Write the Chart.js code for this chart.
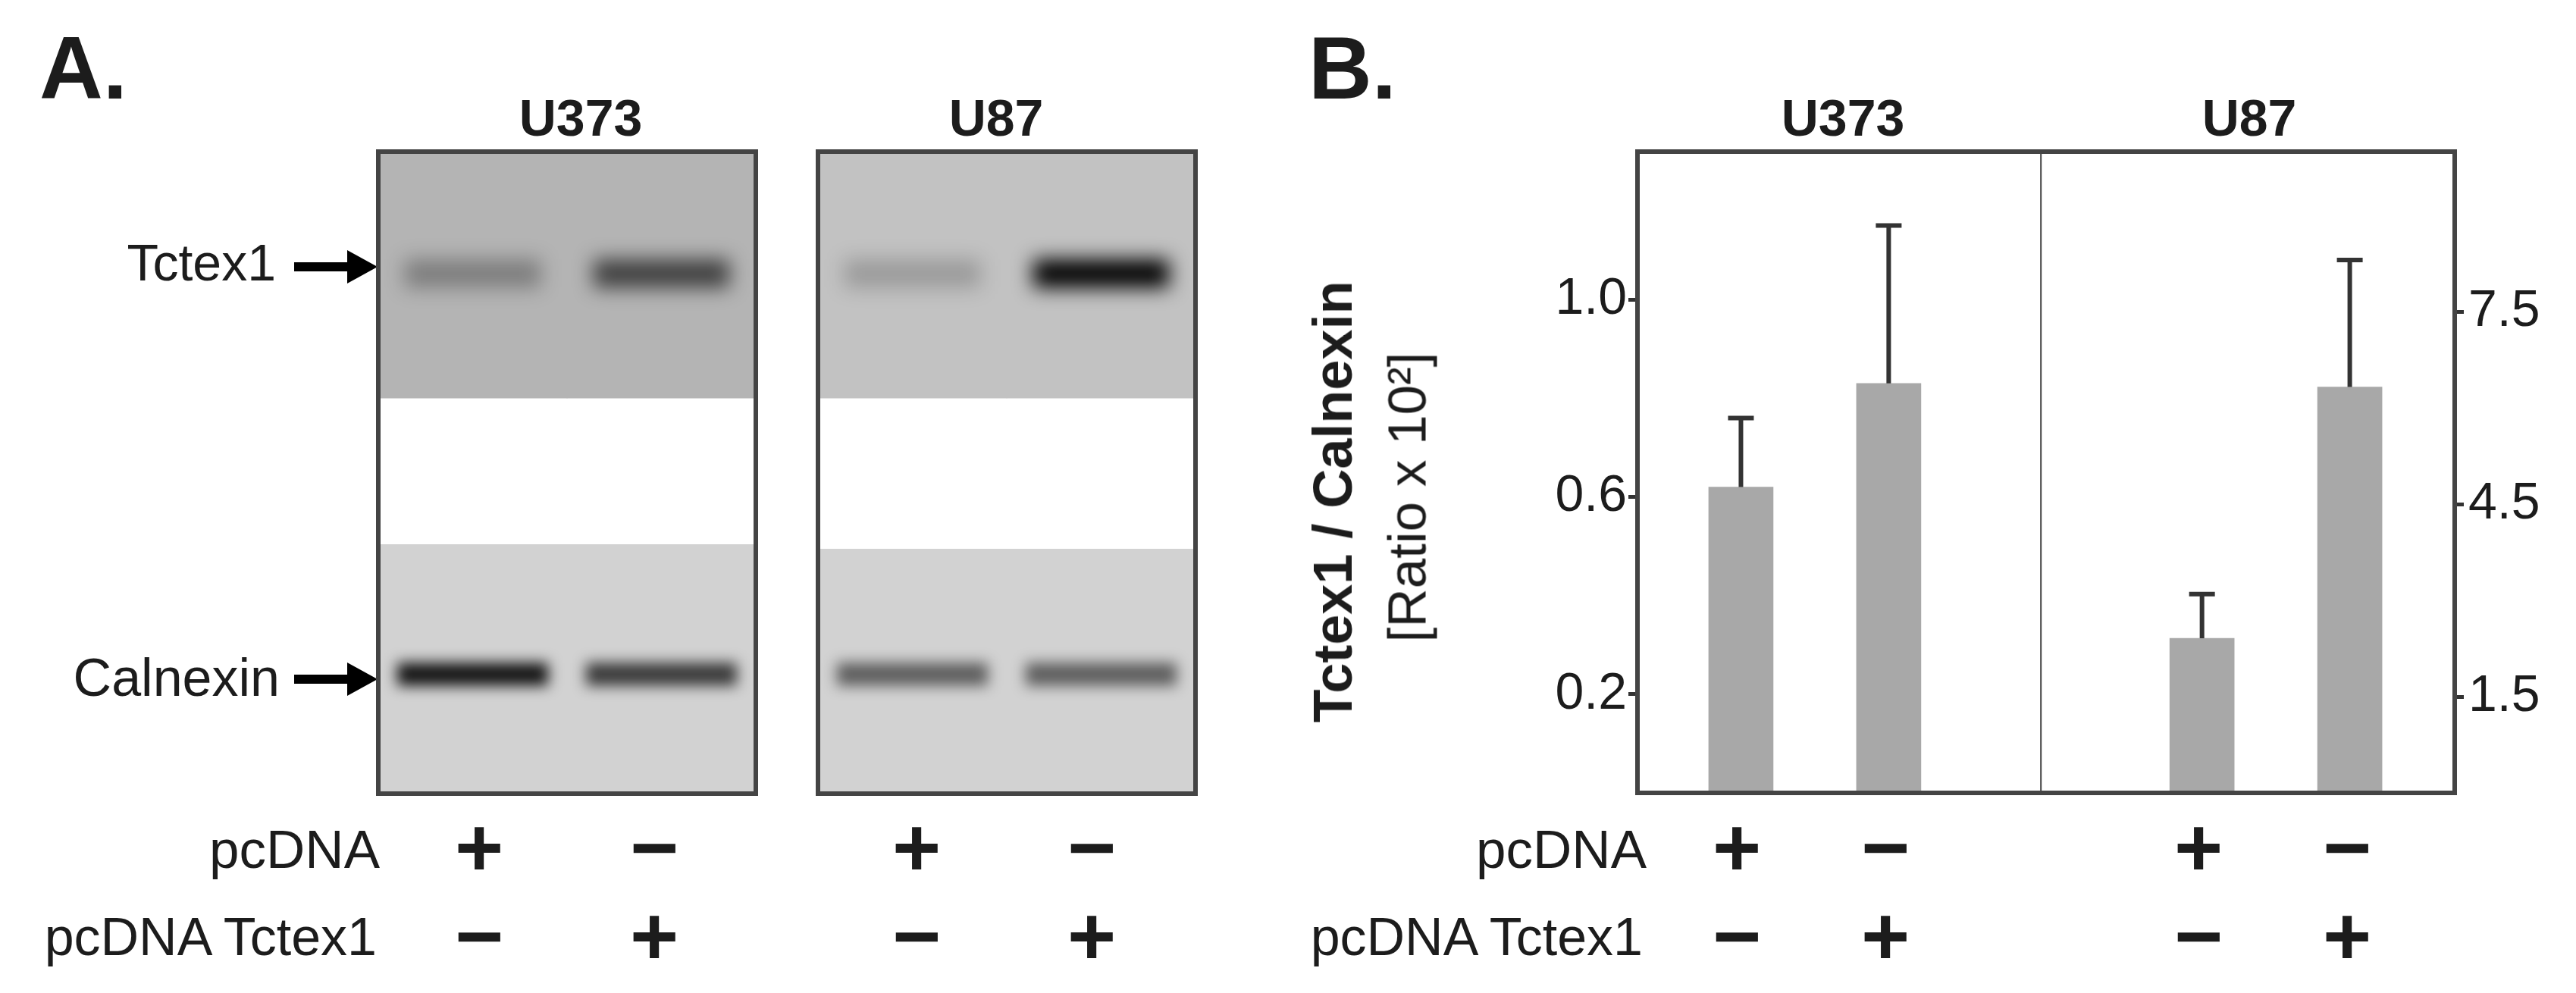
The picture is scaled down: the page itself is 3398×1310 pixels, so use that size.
<!DOCTYPE html>
<html>
<head>
<meta charset="utf-8">
<script src="https://cdn.jsdelivr.net/npm/chart.js@4"></script>
<style>
  html, body { margin: 0; padding: 0; background: #fff; }
  body { position: relative; width: 3398px; height: 1310px; overflow: hidden; }
  canvas { position: absolute; }
  .txt { position: absolute; white-space: nowrap; color: #1c1c1c; font-family: "Liberation Sans", Arial, sans-serif; line-height: 1; }
</style>
</head>
<body>
<canvas id="barChart" width="3398" height="1310" style="left:0;top:0"></canvas>
<canvas id="blotU373" width="508" height="857" style="left:494px;top:195px"></canvas>
<canvas id="blotU87" width="508" height="857" style="left:1074px;top:195px"></canvas>
<script>
// panel B values
const cellLines = ["U373", "U87"];
const u373Values = [0.62, 0.83];
const u373ErrTop = [0.76, 1.15];
const u87Values = [2.41, 6.33];
const u87ErrTop = [3.1, 8.31];
const laneSlots = [1, 2, 4.12, 5.12];
const leftTicks = [0.2, 0.6, 1.0];
const rightTicks = [1.5, 4.5, 7.5];

// lanes
const pcdnaSigns = ["+", "−", "+", "−"];
const tctexSigns = ["−", "+", "−", "+"];

// panel A blot, y axis is % of gel height, density is 0-1
const lanes = ["pcDNA", "pcDNA Tctex1"];
const tctexBand = [16.8, 21.2];
const calnexinBand = [79.6, 83.2];
const u373Density = { tctex: [0.3, 0.65], calnexin: [0.9, 0.72] };
const u87Density = { tctex: [0.2, 1], calnexin: [0.55, 0.55] };
const u373Regions = { top: [0, 38.4], bottom: [61.2, 100], topGrey: "#b4b4b4", bottomGrey: "#d2d2d2" };
const u87Regions = { top: [0, 38.4], bottom: [61.9, 100], topGrey: "#c2c2c2", bottomGrey: "#d2d2d2" };

const DARK = "#333333";
Chart.defaults.font.family = '"Liberation Sans", Arial, sans-serif';
Chart.defaults.animation = false;

// error bars, whisker goes up only
const errorBars = {
  id: "errorBars",
  afterDatasetsDraw(chart) {
    const ctx = chart.ctx;
    chart.data.datasets.forEach((ds, d) => {
      const yScale = chart.scales[ds.yAxisID];
      ds.data.forEach((pt, i) => {
        const x = chart.scales.x.getPixelForValue(pt.x);
        const y0 = yScale.getPixelForValue(pt.y);
        const y1 = yScale.getPixelForValue(ds.errTop[i]);
        ctx.save();
        ctx.strokeStyle = DARK;
        ctx.lineWidth = 6;
        ctx.beginPath();
        ctx.moveTo(x, y0);
        ctx.lineTo(x, y1);
        ctx.moveTo(x - 17, y1);
        ctx.lineTo(x + 17, y1);
        ctx.stroke();
        ctx.restore();
      });
    });
  },
};

// plot frame and the line between the two cell lines
const frame = {
  id: "frame",
  afterDraw(chart) {
    const a = chart.chartArea;
    const ctx = chart.ctx;
    ctx.save();
    ctx.strokeStyle = "#444444";
    ctx.lineWidth = 6;
    ctx.strokeRect(a.left, a.top, a.width, a.height);
    if (chart.scales.x.type === "linear") {
      const x = chart.scales.x.getPixelForValue(3.03);
      ctx.lineWidth = 2;
      ctx.beginPath();
      ctx.moveTo(x, a.top);
      ctx.lineTo(x, a.bottom);
      ctx.stroke();
    }
    ctx.restore();
  },
};

// arrows pointing at the blots
const arrows = {
  id: "arrows",
  afterDraw(chart) {
    const ctx = chart.ctx;
    [352, 896].forEach((y) => {
      ctx.save();
      ctx.fillStyle = "#000";
      ctx.fillRect(388, y - 6, 74, 12);
      ctx.beginPath();
      ctx.moveTo(458, y - 22);
      ctx.lineTo(498, y);
      ctx.lineTo(458, y + 22);
      ctx.closePath();
      ctx.fill();
      ctx.restore();
    });
  },
};

new Chart(document.getElementById("barChart"), {
  type: "bar",
  data: {
    datasets: [
      {
        label: cellLines[0],
        yAxisID: "yLeft",
        data: u373Values.map((v, i) => ({ x: laneSlots[i], y: v })),
        errTop: u373ErrTop,
      },
      {
        label: cellLines[1],
        yAxisID: "yRight",
        data: u87Values.map((v, i) => ({ x: laneSlots[i + 2], y: v })),
        errTop: u87ErrTop,
      },
    ],
  },
  options: {
    responsive: false,
    grouped: false,
    barThickness: 85,
    backgroundColor: "#a8a8a8",
    layout: { padding: { left: 1960, right: 30, top: 200, bottom: 264 } },
    plugins: { legend: { display: false }, tooltip: { enabled: false } },
    scales: {
      x: { type: "linear", display: false, offset: false, min: 0.3, max: 5.83 },
      yLeft: {
        position: "left",
        min: 0,
        max: 1.3,
        border: { display: false },
        grid: { drawOnChartArea: false, color: DARK, lineWidth: 5, tickLength: 12 },
        ticks: { color: "#1c1c1c", font: { size: 68 }, padding: 2, callback: (v) => v.toFixed(1) },
        afterBuildTicks: (axis) => { axis.ticks = leftTicks.map((v) => ({ value: v })); },
        afterFit: (axis) => { axis.width = 200; },
      },
      yRight: {
        position: "right",
        min: 0,
        max: 10,
        border: { display: false },
        grid: { drawOnChartArea: false, color: DARK, lineWidth: 5, tickLength: 12 },
        ticks: { color: "#1c1c1c", font: { size: 68 }, padding: 6, callback: (v) => v.toFixed(1) },
        afterBuildTicks: (axis) => { axis.ticks = rightTicks.map((v) => ({ value: v })); },
        afterFit: (axis) => { axis.width = 130; },
      },
    },
  },
  plugins: [errorBars, frame, arrows],
});

// soft edges for the protein bands
const bandBlur = {
  id: "bandBlur",
  beforeDatasetDraw(chart, args) {
    const r = args.meta.controller.getDataset().blurPx;
    chart.ctx.save();
    if (r) chart.ctx.filter = "blur(" + r + "px)";
  },
  afterDatasetDraw(chart) {
    chart.ctx.restore();
  },
};

function blot(id, regions, density) {
  const band = (range, vals, pct, blurPx) => ({
    data: vals.map(() => range),
    backgroundColor: vals.map((d) => "rgba(0,0,0," + d + ")"),
    barPercentage: pct,
    categoryPercentage: 1,
    blurPx: blurPx,
  });
  new Chart(document.getElementById(id), {
    type: "bar",
    data: {
      labels: lanes,
      // chart.js paints the first dataset last, so the bands go first
      datasets: [
        band(tctexBand, density.tctex, 0.72, 13),
        band(calnexinBand, density.calnexin, 0.8, 9),
        { data: lanes.map(() => regions.top), backgroundColor: regions.topGrey, barPercentage: 1, categoryPercentage: 1 },
        { data: lanes.map(() => regions.bottom), backgroundColor: regions.bottomGrey, barPercentage: 1, categoryPercentage: 1 },
      ],
    },
    options: {
      responsive: false,
      grouped: false,
      layout: { padding: 5 },
      plugins: { legend: { display: false }, tooltip: { enabled: false } },
      scales: {
        x: { display: false },
        y: { display: false, reverse: true, min: 0, max: 100 },
      },
    },
    plugins: [bandBlur, frame],
  });
}
blot("blotU373", u373Regions, u373Density);
blot("blotU87", u87Regions, u87Density);

// all the text around the charts
function addText(str, x, y, size, opts) {
  opts = opts || {};
  const el = document.createElement("div");
  el.className = "txt";
  el.textContent = str;
  el.style.left = x + "px";
  el.style.top = y + "px";
  el.style.fontSize = size + "px";
  if (opts.bold) el.style.fontWeight = "bold";
  const ax = opts.align === "right" ? "-100%" : opts.align === "left" ? "0" : "-50%";
  el.style.transform = "translate(" + ax + ",-50%)" + (opts.rot ? " rotate(" + opts.rot + "deg)" : "");
  document.body.appendChild(el);
}

addText("A.", 52, 90, 116, { bold: true, align: "left" });
addText("B.", 1726, 90, 116, { bold: true, align: "left" });
addText(cellLines[0], 766, 155, 68, { bold: true });
addText(cellLines[1], 1314, 155, 68, { bold: true });
addText(cellLines[0], 2431, 155, 68, { bold: true });
addText(cellLines[1], 2967, 155, 68, { bold: true });
addText("Tctex1", 364, 346, 68, { align: "right" });
addText("Calnexin", 369, 894, 70, { align: "right" });
addText("Tctex1 / Calnexin", 1758, 662, 72, { bold: true, rot: -90 });
addText("[Ratio x 10²]", 1856, 656, 71, { rot: -90 });

addText("pcDNA", 501, 1120, 71, { align: "right" });
addText("pcDNA Tctex1", 497, 1236, 70, { align: "right" });
addText("pcDNA", 2172, 1120, 71, { align: "right" });
addText("pcDNA Tctex1", 2167, 1236, 70, { align: "right" });

[632, 863, 1209, 1440].forEach((x, i) => {
  addText(pcdnaSigns[i], x, 1118, 110, { bold: true });
  addText(tctexSigns[i], x, 1235, 110, { bold: true });
});
[2291, 2487, 2900, 3096].forEach((x, i) => {
  addText(pcdnaSigns[i], x, 1118, 110, { bold: true });
  addText(tctexSigns[i], x, 1235, 110, { bold: true });
});
</script>
</body>
</html>
